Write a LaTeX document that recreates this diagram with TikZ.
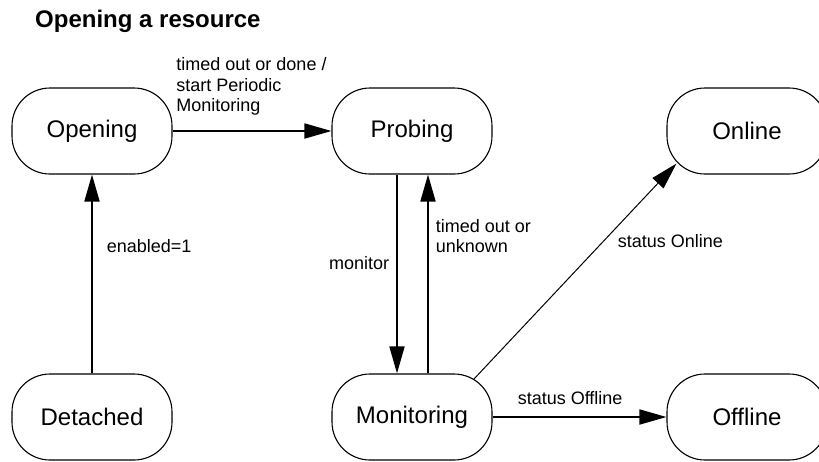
\documentclass[tikz,border=0pt]{standalone}
\usepackage{fontspec}
\setmainfont{Liberation Sans}
\usepackage{tikz}
\usetikzlibrary{arrows.meta}
\usetikzlibrary{positioning}
\tikzset{
  state/.style={draw, line width=1.1pt, rounded corners=38pt, minimum width=160pt,
    minimum height=86pt, inner sep=0, font=\fontsize{24}{28}\selectfont},
  trans/.style={line width=1.8pt, -{Triangle[length=27pt,width=15pt]}},
  thintrans/.style={line width=1pt, -{Triangle[length=27pt,width=15pt]}},
  lbl/.style={inner sep=0, align=left, font=\fontsize{18}{20.3}\selectfont}
}

\begin{document}
\begin{tikzpicture}[x=1pt, y=-1pt]
\clip (0,0) rectangle (819,461);
\fill[white] (0,0) rectangle (819,461);
\node[anchor=base west, inner sep=0, font=\fontsize{24}{28}\selectfont\bfseries] (title) at (35,27) {Opening a resource};

\node[state] (open) at (92,131) {Opening};
\node[state] (probe) at (412,131) {Probing};
\node[state] (online) at (747,131) {Online};
\node[state] (detach) at (92,417) {Detached};
\node[state] (monitor) at (412,417) {Monitoring};
\node[state] (offline) at (747,417) {Offline};

\draw[trans] (open) -- node[lbl, pos=0, anchor=south west, xshift=3pt, yshift=15pt] (lblstart) {timed out or done /\\start Periodic\\Monitoring} (probe);
\draw[trans] (detach) -- node[lbl, pos=.64, anchor=west, xshift=14pt] (lblenable) {enabled=1} (open);
\draw[trans] ([xshift=-15pt]probe.south) -- node[lbl, pos=.445, anchor=east, xshift=-7pt] (lblmonitor) {monitor} ([xshift=-15pt]monitor.north);
\draw[trans] ([xshift=16pt]monitor.north) -- node[lbl, pos=.69, anchor=west, xshift=7pt] (lbltimeout) {timed out or\\unknown} ([xshift=16pt]probe.south);
\draw[thintrans] ([xshift=-19pt,yshift=-6pt]monitor.north east) -- node[lbl, pos=.64, anchor=west, xshift=14pt] (lblonline) {status Online} ([xshift=10pt,yshift=11pt]online.south west);
\draw[trans] (monitor) -- node[lbl, pos=.446, anchor=south, yshift=11pt] (lbloffline) {status Offline} (offline);
\end{tikzpicture}
\end{document}
